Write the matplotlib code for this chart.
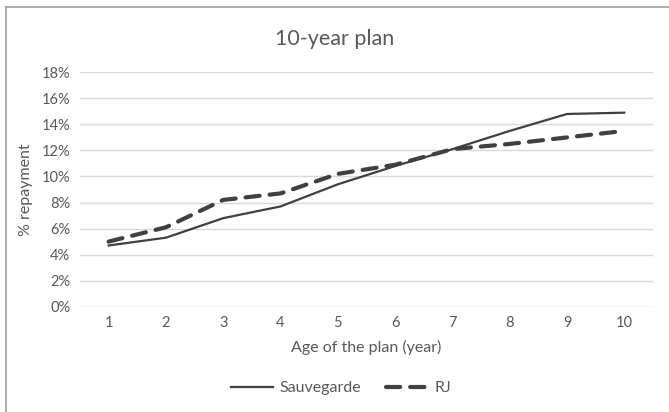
import matplotlib
matplotlib.use("Agg")
import matplotlib.pyplot as plt
from matplotlib.lines import Line2D
from matplotlib.ticker import PercentFormatter

# values (fraction of capital repaid)
years = [1, 2, 3, 4, 5, 6, 7, 8, 9, 10]
sauvegarde = [0.047, 0.053, 0.068, 0.077, 0.094, 0.108, 0.121, 0.135, 0.148, 0.149]
rj = [0.050, 0.061, 0.082, 0.087, 0.102, 0.109, 0.121, 0.125, 0.130, 0.135]
y_ticks = [0.0, 0.02, 0.04, 0.06, 0.08, 0.10, 0.12, 0.14, 0.16, 0.18]

TEXT = "#595959"
LINE = "#404040"
plt.rcParams["font.family"] = ["Lato", "DejaVu Sans"]

fig = plt.figure(figsize=(6.69, 4.12), dpi=100)
ax = fig.add_axes([0.1196, 0.2556, 0.8565, 0.5689])

ax.plot(years, sauvegarde, color=LINE, linewidth=1.6, label="Sauvegarde")
ax.plot(years, rj, color=LINE, linewidth=3.0, dashes=(3.4, 2.4),
        dash_capstyle="round", label="RJ")

ax.set_xlim(0.5, 10.5)
ax.set_ylim(0, 0.18)
ax.set_xticks(years)
ax.set_yticks(y_ticks)
ax.yaxis.set_major_formatter(PercentFormatter(1.0, decimals=0))
ax.grid(axis="y", color="#d9d9d9", linewidth=1.0)
ax.set_axisbelow(True)
for s in ax.spines.values():
    s.set_visible(False)
ax.tick_params(length=0, labelsize=10.5, colors=TEXT, pad=7)

ax.set_xlabel("Age of the plan (year)", fontsize=11.5, color=TEXT, labelpad=7)
ax.set_ylabel("% repayment", fontsize=11.5, color=TEXT, labelpad=6)
fig.text(0.5, 0.905, "10-year plan", ha="center", va="center",
         fontsize=15.5, color=TEXT)

fig.legend(loc="center", bbox_to_anchor=(0.51, 0.058), ncol=2, frameon=False,
           fontsize=11.5, labelcolor=TEXT, handlelength=2.6, handletextpad=0.4,
           columnspacing=1.6)

# cropped chart frame: only top and left edges visible
fig.add_artist(Line2D([0.009, 1.0], [0.983, 0.983], color="#a0a0a0", linewidth=1.2,
                      transform=fig.transFigure))
fig.add_artist(Line2D([0.009, 0.009], [0.0, 0.983], color="#a0a0a0", linewidth=1.2,
                      transform=fig.transFigure))

fig.savefig("out.png", dpi=100)
